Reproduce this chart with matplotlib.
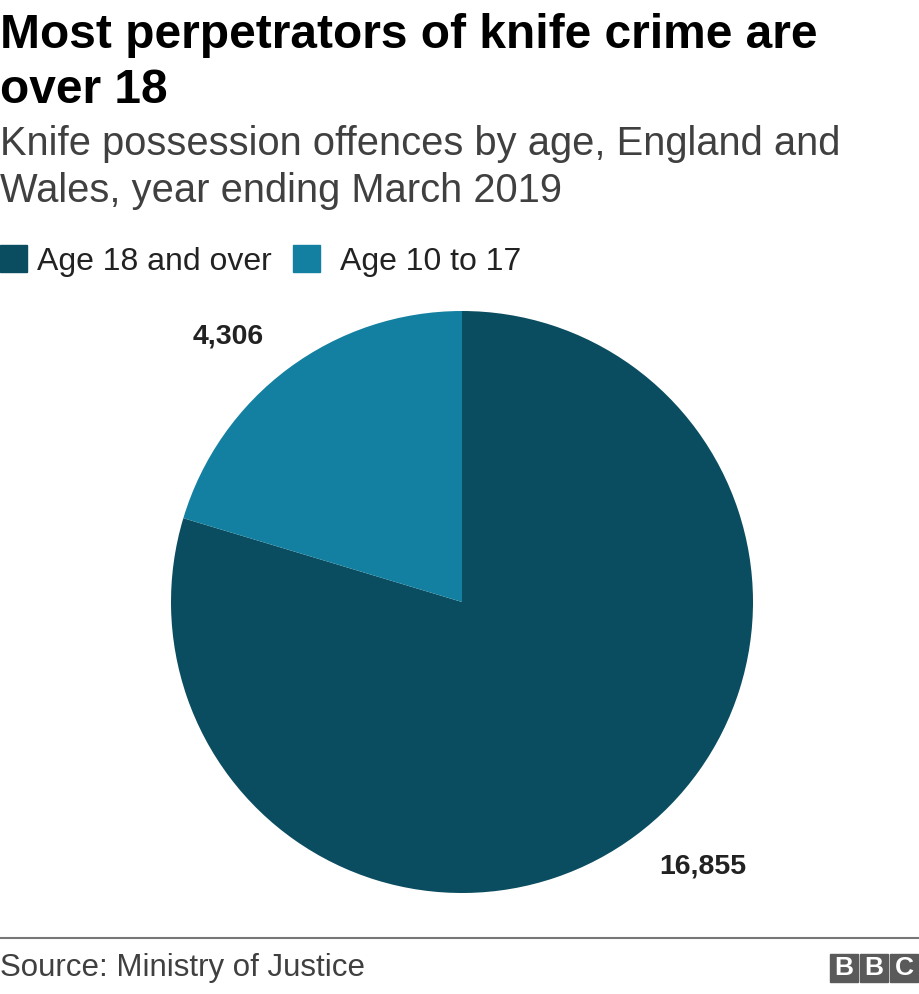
import matplotlib.pyplot as plt
from matplotlib.patches import Rectangle

plt.rcParams['font.family'] = ['Liberation Sans', 'DejaVu Sans']

groups = ["Age 18 and over", "Age 10 to 17"]
offences = [16855, 4306]
colours = ["#0b4d60", "#1380a1"]
value_labels = ["16,855", "4,306"]

fig = plt.figure(figsize=(9.2, 9.94), dpi=100)

W, H = 920, 994
def px(x, y):
    return x / W, 1 - y / H

# titles
fig.text(*px(0, 48), "Most perpetrators of knife crime are", fontsize=34.5,
         fontweight='bold', va='baseline', ha='left', color='#000000')
fig.text(*px(0, 103), "over 18", fontsize=34.5,
         fontweight='bold', va='baseline', ha='left', color='#000000')
fig.text(*px(0, 155), "Knife possession offences by age, England and",
         fontsize=28.7, va='baseline', ha='left', color='#404040')
fig.text(*px(0, 202), "Wales, year ending March 2019",
         fontsize=28.7, va='baseline', ha='left', color='#404040')

# legend
for i, (x0, xt) in enumerate([(0, 37), (293, 340)]):
    fx, fy = px(x0, 272)
    fig.patches.append(Rectangle((fx, fy), 27 / W, 27 / H, transform=fig.transFigure,
                                 color=colours[i]))
    fig.text(*px(xt, 270), groups[i], fontsize=23, va='baseline', ha='left', color='#222222')

# pie
ax = fig.add_axes([(462 - 291) / W, 1 - 893 / H, 582 / W, 582 / H])
ax.pie(offences, colors=colours, startangle=90, counterclock=False,
       wedgeprops=dict(linewidth=0))
ax.set_xlim(-1, 1)
ax.set_ylim(-1, 1)
ax.set_aspect('equal')
ax.axis('off')

fig.text(*px(228, 337), value_labels[1], fontsize=20.5, fontweight='bold',
         ha='center', va='center', color='#222222')
fig.text(*px(703, 866), value_labels[0], fontsize=20.5, fontweight='bold',
         ha='center', va='center', color='#222222')

# footer
fig.add_artist(plt.Line2D([0, 1], [1 - 938 / H] * 2, color='#777777', linewidth=1.5,
                          transform=fig.transFigure))
fig.text(*px(0, 976), "Source: Ministry of Justice", fontsize=22.5, ha='left', va='baseline',
         color='#404040')
for i, letter in enumerate("BBC"):
    bx = 830 + i * 30
    fx, fy = px(bx, 982)
    fig.patches.append(Rectangle((fx, fy), 28 / W, 28 / H, transform=fig.transFigure,
                                 color='#5a5a5a'))
    fig.text(*px(bx + 14, 968), letter, fontsize=19, fontweight='bold', color='white',
             ha='center', va='center')

fig.savefig("out.png", dpi=100)
